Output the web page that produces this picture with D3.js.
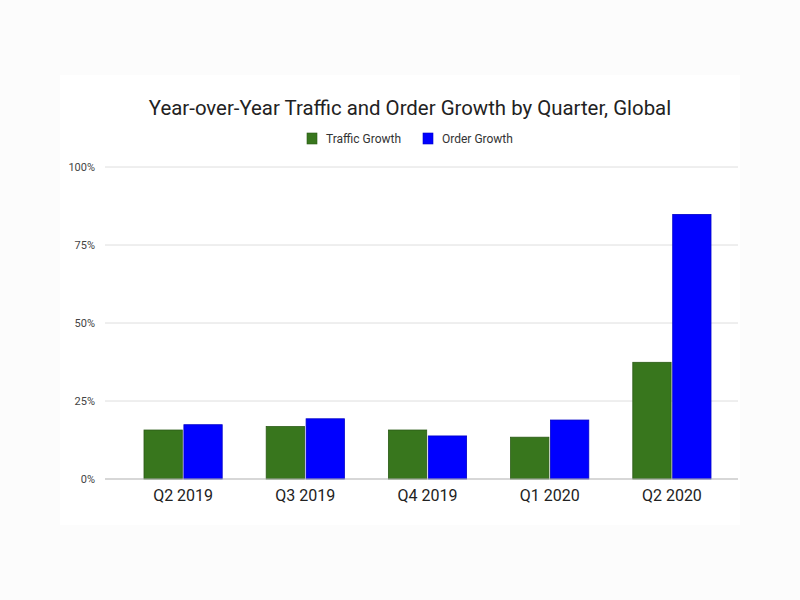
<!DOCTYPE html>
<html><head><meta charset="utf-8">
<script src="https://cdn.jsdelivr.net/npm/d3@7"></script>
<style>body{margin:0;background:#fcfcfc;}svg{display:block;}</style>
</head><body>
<svg id="c" width="800" height="600"></svg>
<script>
const categories = ["Q2 2019","Q3 2019","Q4 2019","Q1 2020","Q2 2020"];
const seriesNames = ["Traffic Growth","Order Growth"];
const trafficGrowth = [15.7, 16.8, 15.7, 13.4, 37.4];
const orderGrowth = [17.4, 19.3, 13.8, 18.9, 84.8];
const yTicks = [0, 25, 50, 75, 100];
const colors = ["#38761d", "#0000ff"];
const strokes = ["#2a5a15", "#0000c8"];

const svg = d3.select("#c");
svg.append("rect").attr("x",60).attr("y",75).attr("width",680).attr("height",450).attr("fill","#ffffff");

const y = d3.scaleLinear().domain([0,100]).range([479,167]);
const x0 = d3.scaleBand().domain(categories).range([122,733]).paddingInner(0.36).paddingOuter(0.18);
const x1 = d3.scaleBand().domain(seriesNames).range([0,x0.bandwidth()]).paddingInner(0.04);

// gridlines
svg.append("g").selectAll("line").data(yTicks.filter(d=>d>0)).join("line")
  .attr("x1",105).attr("x2",738).attr("y1",d=>y(d)).attr("y2",d=>y(d))
  .attr("stroke","#dedede").attr("stroke-width",1);

// y labels
svg.append("g").selectAll("text").data(yTicks).join("text")
  .attr("x",95).attr("y",d=>y(d)+4).attr("text-anchor","end")
  .attr("font-family","Roboto, sans-serif").attr("font-size",11).attr("fill","#444")
  .text(d=>d+"%");

const data = categories.map((c,i)=>({cat:c, vals:[trafficGrowth[i], orderGrowth[i]]}));
const g = svg.append("g");
data.forEach(d=>{
  d.vals.forEach((v,j)=>{
    g.append("rect")
      .attr("x", x0(d.cat)+x1(seriesNames[j]))
      .attr("y", y(v))
      .attr("width", x1.bandwidth())
      .attr("height", y(0)-y(v))
      .attr("fill", colors[j]).attr("stroke", strokes[j]).attr("stroke-width",0.8);
  });
});

// baseline
svg.append("line").attr("x1",105).attr("x2",738).attr("y1",y(0)).attr("y2",y(0))
  .attr("stroke","#b0b0b0").attr("stroke-width",1.2);

// x labels
svg.append("g").selectAll("text").data(categories).join("text")
  .attr("x",d=>x0(d)+x0.bandwidth()/2).attr("y",501).attr("text-anchor","middle")
  .attr("font-family","Roboto, sans-serif").attr("font-size",16).attr("fill","#222")
  .text(d=>d);

// title
svg.append("text").attr("x",410).attr("y",115).attr("text-anchor","middle")
  .attr("font-family","Roboto, sans-serif").attr("font-size",20.4).attr("fill","#222")
  .text("Year-over-Year Traffic and Order Growth by Quarter, Global");

// legend
const legX = [307, 423];
seriesNames.forEach((s,i)=>{
  svg.append("rect").attr("x",legX[i]).attr("y",133).attr("width",10).attr("height",11)
    .attr("fill",colors[i]).attr("stroke",strokes[i]).attr("stroke-width",0.6);
  svg.append("text").attr("x",legX[i]+19).attr("y",143)
    .attr("font-family","Roboto, sans-serif").attr("font-size",12).attr("fill","#333")
    .text(s);
});
</script>
</body></html>
